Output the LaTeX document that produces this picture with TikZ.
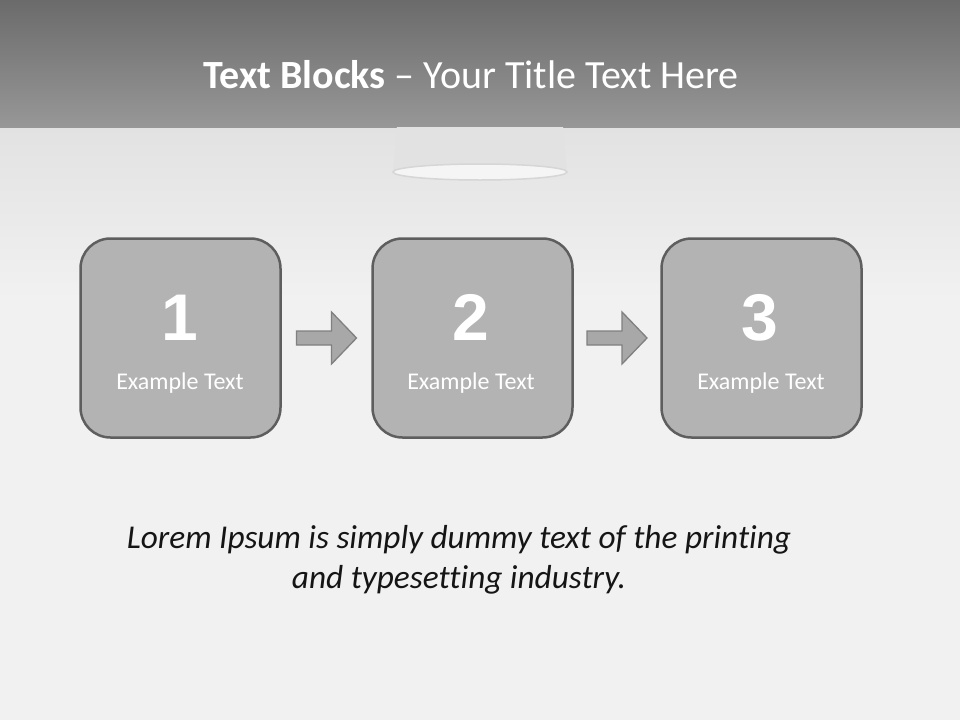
\documentclass[tikz,border=0pt]{standalone}
\usepackage{fontspec}
\usetikzlibrary{calc}
\setmainfont{Carlito}[Ligatures=NoCommon]
\newfontfamily\numfont{Liberation Sans}
\definecolor{bandtop}{HTML}{6B6B6B}
\definecolor{bandbot}{HTML}{979797}
\definecolor{floortop}{HTML}{E2E2E2}
\definecolor{floormid}{HTML}{F1F1F1}
\definecolor{boxfill}{HTML}{B3B3B3}
\definecolor{boxline}{HTML}{5E5E5E}
\definecolor{arrowfill}{HTML}{A8A8A8}
\definecolor{arrowline}{HTML}{808080}
\definecolor{lampcol}{HTML}{E2E2E2}
\definecolor{lampline}{HTML}{D6D6D6}
\definecolor{lorem}{HTML}{151515}
\tikzset{
  stepbox/.style={draw=boxline, line width=2.5pt, fill=boxfill, rounded corners=30pt,
    minimum width=200pt, minimum height=199pt, inner sep=0pt},
  numtext/.style={text=white, font=\numfont\bfseries\fontsize{66}{70}\selectfont, anchor=base},
  extext/.style={text=white, font=\fontsize{24}{28}\selectfont, anchor=base},
  flowarrow/.style={draw=arrowline, line width=1.3pt, fill=arrowfill, line join=miter},
  lorembox/.style={anchor=base, text=lorem, font=\itshape\fontsize{33.3}{40}\selectfont}
}
\begin{document}
\begin{tikzpicture}[x=1pt,y=-1pt]
\useasboundingbox (0,0) rectangle (960,720);
% background
\fill[floormid] (0,0) rectangle (960,720);
\shade[top color=floortop, bottom color=floormid] (0,127) rectangle (960,300);
\shade[top color=bandtop, bottom color=bandbot] (0,0) rectangle (960,127);
% lamp shade
\fill[lampcol] (397,127) -- (563,127) -- (567,172) -- (393,172) -- cycle;
\draw[lampline, line width=1.5pt, fill=white!96!black] (480,172) ellipse (87pt and 8pt);
% title
\node[anchor=base, text=white, font=\fontsize{40}{46}\selectfont] (title) at (471,88)
  {\textbf{Text Blocks} – Your Title Text Here};
% boxes
\node[stepbox] (b1) at (180.5,338) {};
\node[stepbox] (b2) at (472.5,338) {};
\node[stepbox] (b3) at (761.5,338) {};
\node[numtext] (n1) at (180,340) {1};
\node[numtext] (n2) at (471,340) {2};
\node[numtext] (n3) at (760,340) {3};
\node[extext] (e1) at (180,389) {Example Text};
\node[extext] (e2) at (471,389) {Example Text};
\node[extext] (e3) at (761,389) {Example Text};
% arrows
\coordinate (a1) at ($(b1.east)!0.5!(b2.west)$);
\coordinate (a2) at ($(b2.east)!0.5!(b3.west)$);
\foreach \c in {a1,a2}{
  \draw[flowarrow] ([shift={(-30,-7)}]\c) -- ([shift={(5,-7)}]\c) -- ([shift={(5,-26)}]\c)
    -- ([shift={(30,0)}]\c) -- ([shift={(5,26)}]\c) -- ([shift={(5,7)}]\c)
    -- ([shift={(-30,7)}]\c) -- cycle;
}
% lorem
\node[lorembox] (lo) at (459,548) {Lorem Ipsum is simply dummy text of the printing};
\node[lorembox] (lo2) at (459,588) {and typesetting industry.};
\end{tikzpicture}
\end{document}
